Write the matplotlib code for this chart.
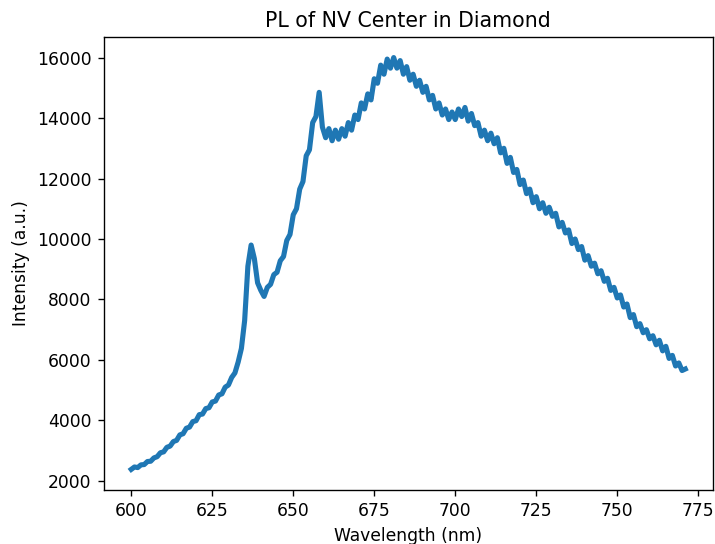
import matplotlib
matplotlib.use("Agg")
import matplotlib.pyplot as plt

# PL spectrum (1 nm steps, visible jitter kept)
wavelength = [
    600, 601, 602, 603, 604, 605, 606, 607, 608, 609,
    610, 611, 612, 613, 614, 615, 616, 617, 618, 619,
    620, 621, 622, 623, 624, 625, 626, 627, 628, 629,
    630, 631, 632, 633, 634, 635, 636, 637, 638, 639,
    640, 641, 642, 643, 644, 645, 646, 647, 648, 649,
    650, 651, 652, 653, 654, 655, 656, 657, 658, 659,
    660, 661, 662, 663, 664, 665, 666, 667, 668, 669,
    670, 671, 672, 673, 674, 675, 676, 677, 678, 679,
    680, 681, 682, 683, 684, 685, 686, 687, 688, 689,
    690, 691, 692, 693, 694, 695, 696, 697, 698, 699,
    700, 701, 702, 703, 704, 705, 706, 707, 708, 709,
    710, 711, 712, 713, 714, 715, 716, 717, 718, 719,
    720, 721, 722, 723, 724, 725, 726, 727, 728, 729,
    730, 731, 732, 733, 734, 735, 736, 737, 738, 739,
    740, 741, 742, 743, 744, 745, 746, 747, 748, 749,
    750, 751, 752, 753, 754, 755, 756, 757, 758, 759,
    760, 761, 762, 763, 764, 765, 766, 767, 768, 769,
    770, 771,
]
intensity = [
    2380, 2460, 2440, 2530, 2540, 2640, 2650, 2760, 2800, 2930,
    2960, 3110, 3150, 3300, 3340, 3520, 3560, 3740, 3780, 3960,
    3990, 4190, 4210, 4390, 4420, 4610, 4640, 4840, 4880, 5100,
    5170, 5420, 5570, 5930, 6380, 7300, 9100, 9800, 9350, 8550,
    8300, 8100, 8400, 8500, 8820, 8900, 9280, 9420, 9950, 10150,
    10800, 11000, 11650, 11900, 12750, 12950, 13850, 14050, 14850, 13700,
    13350, 13650, 13250, 13600, 13300, 13650, 13400, 13850, 13600, 14100,
    13950, 14500, 14300, 14800, 14600, 15300, 15150, 15750, 15450, 15950,
    15650, 16000, 15650, 15900, 15450, 15700, 15250, 15450, 15050, 15250,
    14850, 15050, 14600, 14750, 14300, 14500, 14100, 14300, 13950, 14200,
    13950, 14300, 14050, 14350, 13900, 14150, 13750, 13850, 13400, 13600,
    13250, 13500, 13150, 13350, 12850, 13000, 12500, 12700, 12200, 12300,
    11800, 11950, 11500, 11650, 11200, 11400, 11000, 11200, 10850, 11050,
    10750, 10850, 10400, 10550, 10200, 10300, 9850, 10000, 9650, 9750,
    9300, 9450, 9100, 9200, 8850, 8950, 8600, 8700, 8300, 8400,
    8050, 8150, 7750, 7850, 7400, 7500, 7100, 7200, 6900, 7000,
    6700, 6800, 6500, 6650, 6300, 6450, 6050, 6150, 5800, 5900,
    5650, 5700,
]

DPI = 123


def main():
    fig = plt.figure(figsize=(715 / DPI, 544 / DPI), dpi=DPI)
    ax = fig.add_axes([0.1448, 0.0993, 0.8524, 0.8327])
    ax.plot(wavelength, intensity, color="#1f77b4", linewidth=3.0)
    ax.set_title("PL of NV Center in Diamond")
    ax.set_xlabel("Wavelength (nm)")
    ax.set_ylabel("Intensity (a.u.)")
    fig.savefig("out.png", dpi=DPI)
    plt.close(fig)


if __name__ == "__main__":
    main()
